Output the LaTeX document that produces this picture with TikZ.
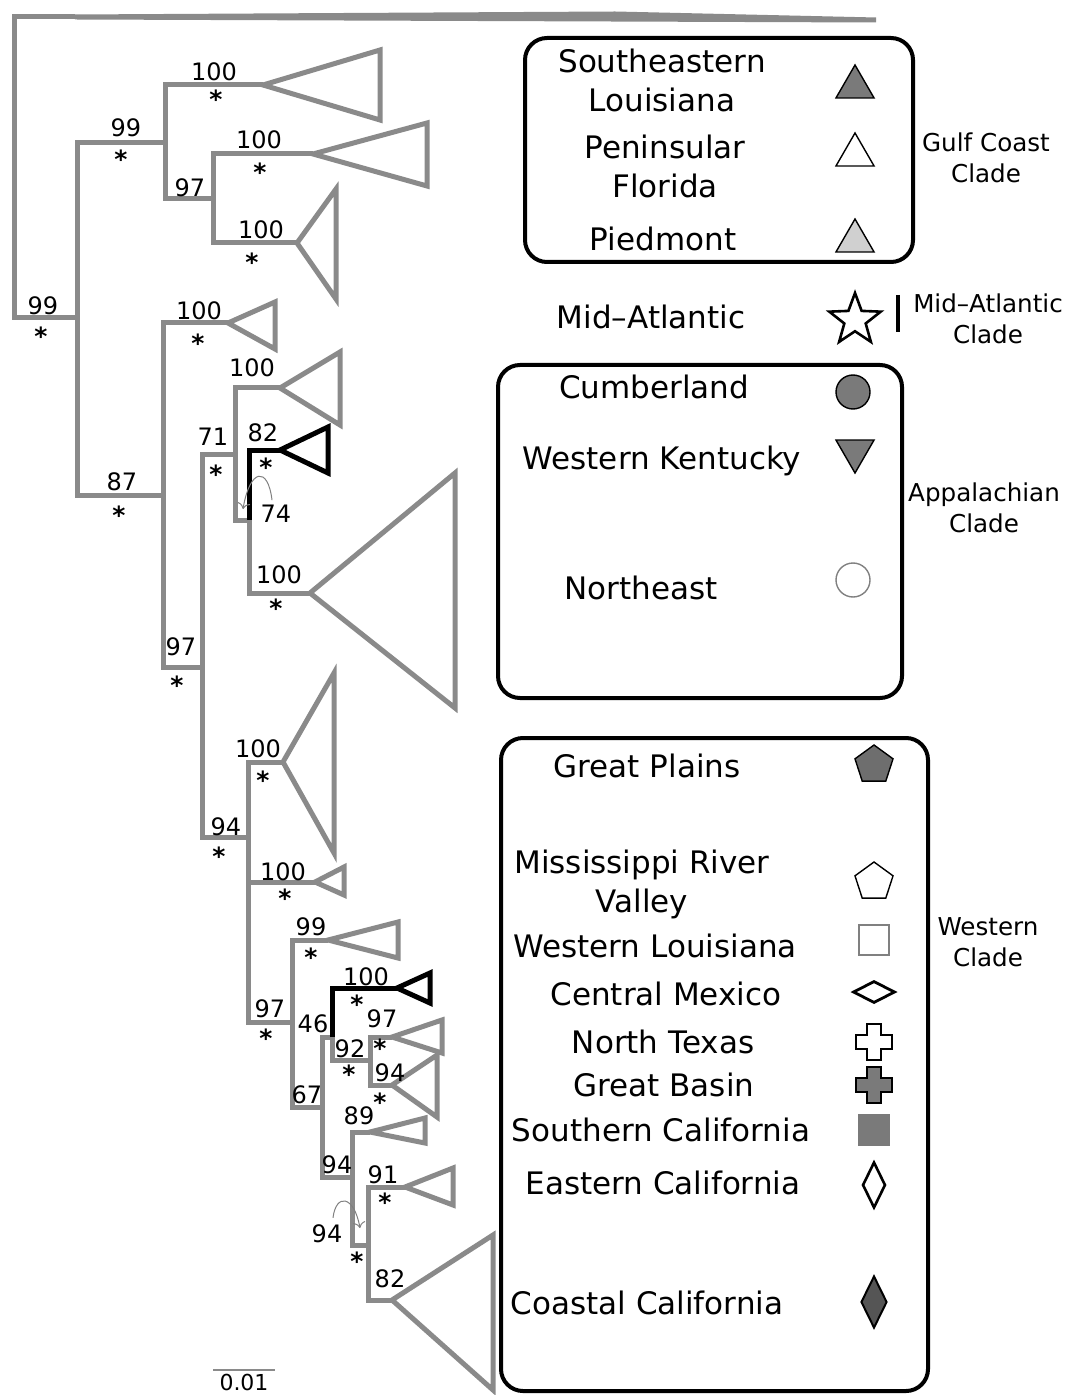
\documentclass[tikz,border=0pt]{standalone}
\usepackage{fontspec}
\setmainfont{DejaVu Sans}
\usetikzlibrary{shapes.geometric,arrows.meta}
\definecolor{treegray}{RGB}{138,138,138}
\definecolor{symgray}{RGB}{122,122,122}
\definecolor{symdark}{RGB}{85,85,85}
\definecolor{symlight}{RGB}{208,208,208}

\begin{document}
\begin{tikzpicture}[x=0.5pt,y=-0.5pt,
    br/.style={draw=treegray,line width=2.5pt,line join=miter},
    bl/.style={draw=black,line width=2.5pt,line join=miter},
    bs/.style={font=\fontsize{12}{14}\selectfont,inner sep=0pt,anchor=base},
    ps/.style={bs,font=\fontsize{12.5}{14}\selectfont\bfseries},
    lg/.style={font=\fontsize{15.5}{19.5}\selectfont,align=center,inner sep=0pt},
    lt/.style={lg,anchor=base},
    cl/.style={font=\fontsize{12.3}{15.5}\selectfont,align=center,inner sep=0pt},
    box/.style={draw,line width=2pt,rounded corners=11pt},
    sym/.style={draw,line width=0.7pt,inner sep=0pt},
    cv/.style={draw=gray,line width=0.5pt,-{To[length=3pt]}}]
  \useasboundingbox (0,0) rectangle (1070,1395);
  \coordinate (rt) at (14,17);
  \coordinate (og) at (75,17);
  \coordinate (a) at (77,318);
  \coordinate (b) at (165,143);
  \coordinate (c) at (213,199);
  \coordinate (d) at (163,495);
  \coordinate (e) at (202,667);
  \coordinate (f) at (235,454);
  \coordinate (g) at (249,520);
  \coordinate (h) at (248,837);
  \coordinate (i) at (292,1022);
  \coordinate (j) at (322,1107);
  \coordinate (k) at (332,1037);
  \coordinate (q) at (370,1060);
  \coordinate (m) at (352,1177);
  \coordinate (n) at (368,1245);
  \coordinate (l1) at (263,85);
  \coordinate (l2) at (313,154);
  \coordinate (l3) at (297,243);
  \coordinate (l4) at (228,323);
  \coordinate (l5) at (280,388);
  \coordinate (l6) at (280,450);
  \coordinate (l7) at (310,593);
  \coordinate (l8) at (283,762);
  \coordinate (l9) at (315,882);
  \coordinate (l10) at (328,940);
  \coordinate (l11) at (397,988);
  \coordinate (l12) at (392,1037);
  \coordinate (l13) at (392,1085);
  \coordinate (l14) at (370,1132);
  \coordinate (l15) at (405,1187);
  \coordinate (l16) at (392,1300);

  \draw[br,fill=treegray] (og) -- (615,14) -- (876,20) -- cycle;
  \draw[br] (og) -- (rt) |- (a) (a) |- (b) (a) |- (d) (b) |- (l1) (b) |- (c)
    (c) |- (l2) (c) |- (l3) (d) |- (l4) (d) |- (e) (e) |- (f) (e) |- (h)
    (f) |- (l5) (f) |- (g) (g) |- (l7) (h) |- (l8) (h) |- (l9) (h) |- (i)
    (i) |- (l10) (i) |- (j) (j) |- (k) (j) |- (m) (k) |- (q) (q) |- (l12)
    (q) |- (l13) (m) |- (l14) (m) |- (n) (n) |- (l15) (n) |- (l16);
  \draw[bl] (g) |- (l6) (k) |- (l11);
  \foreach \t/\r/\u/\v in {l1/380/50/120, l2/427/123/186, l3/336/189/299,
      l4/275/302/349, l5/340/352/425, l7/455/473/708, l8/334/673/853,
      l9/344/867/895, l10/398/922/958, l12/442/1020/1053, l13/437/1055/1117,
      l14/425/1118/1143, l15/453/1168/1205, l16/493/1235/1390}
    \draw[br] (\t) -- (\r,\u) -- (\r,\v) -- cycle;
  \draw[bl] (l6) -- (328,427) -- (328,473) -- cycle;
  \draw[bl] (l11) -- (430,973) -- (430,1003) -- cycle;

  \foreach \x/\y/\v [count=\s] in {43/315/99, 126/137/99, 214/81/100, 190/197/97,
      259/149/100, 261/239/100, 122/490/87, 199/320/100, 181/655/97, 213/445/71,
      252/377/100, 263/442/82, 276/522/74, 279/583/100, 226/835/94, 258/757/100,
      283/880/100, 270/1017/97, 311/935/99, 313/1032/46, 366/985/100, 382/1027/97,
      350/1057/92, 390/1081/94, 307/1103/67, 359/1124/89, 337/1173/94,
      383/1183/91, 327/1242/94, 390/1287/82}
    \node[bs] (b\s) at (\x,\y) {\v};
  \foreach \x/\y [count=\s] in {41/346, 121/169, 216/109, 260/182, 252/272,
      119/524, 198/353, 177/694, 216/483, 266/476, 276/617, 219/865, 263/789,
      285/907, 266/1047, 311/966, 357/1013, 380/1057, 349/1083, 380/1111,
      385/1211, 357/1270}
    \node[ps] (p\s) at (\x,\y) {*};
  \coordinate (t74) at (243,509);
  \coordinate (t94) at (360,1228);
  \draw[cv] (b13.north) ++(-4,-4) .. controls (268,466) and (250,468) .. (t74);
  \draw[cv] (b29.north) ++(6,-6) .. controls (336,1193) and (354,1195) .. (t94);

  \draw[treegray,line width=1pt] (213,1370) -- (275,1370);
  \node[bs,font=\fontsize{11}{13}\selectfont] (sc) at (244,1390) {0.01};

  \draw[box] (525,38) rectangle (913,262);
  \draw[box] (498,365) rectangle (902,698);
  \draw[box] (501,738) rectangle (928,1391);

  \node[lg] (sel) at (662,80) {Southeastern\\Louisiana};
  \node[lg] (pfl) at (665,166) {Peninsular\\Florida};
  \node[lt] (pdm) at (663,251) {Piedmont};
  \node[lt] (mat) at (651,329) {Mid--Atlantic};
  \node[lt] (cum) at (654,399) {Cumberland};
  \node[lt] (wky) at (662,469) {Western Kentucky};
  \node[lt] (nea) at (641,599) {Northeast};
  \node[lt] (gpl) at (647,777) {Great Plains};
  \node[lg] (mrv) at (642,884) {Mississippi River\\Valley};
  \node[lt] (wla) at (655,957) {Western Louisiana};
  \node[lt] (cmx) at (666,1005) {Central Mexico};
  \node[lt] (ntx) at (663,1053) {North Texas};
  \node[lt] (gba) at (664,1096) {Great Basin};
  \node[lt] (sca) at (661,1141) {Southern California};
  \node[lt] (eca) at (663,1194) {Eastern California};
  \node[lt] (cca) at (647,1314) {Coastal California};

  \node[cl] (gcc) at (986,158) {Gulf Coast\\Clade};
  \node[cl] (mac) at (988,319) {Mid--Atlantic\\Clade};
  \node[cl] (apc) at (984,508) {Appalachian\\Clade};
  \node[cl] (wec) at (988,942) {Western\\Clade};

  \node[sym,regular polygon,regular polygon sides=3,minimum size=22pt,fill=symgray] (y1) at (855,87) {};
  \node[sym,regular polygon,regular polygon sides=3,minimum size=22pt,fill=white] (y2) at (855,155) {};
  \node[sym,regular polygon,regular polygon sides=3,minimum size=22pt,fill=symlight] (y3) at (855,241) {};
  \node[sym,star,star points=5,star point ratio=2.4,minimum size=27pt,line width=1.3pt] (y4) at (855,320) {};
  \draw[line width=2pt] (898,295) -- (898,332);
  \node[sym,circle,minimum size=17pt,fill=symgray] (y5) at (853,392) {};
  \node[sym,regular polygon,regular polygon sides=3,shape border rotate=180,minimum size=22pt,fill=symgray] (y6) at (855,451) {};
  \node[sym,circle,minimum size=17pt,draw=gray] (y7) at (853,580) {};
  \node[sym,regular polygon,regular polygon sides=5,minimum size=20pt,fill=symdark!85!white] (y8) at (874,765) {};
  \node[sym,regular polygon,regular polygon sides=5,minimum size=20pt] (y9) at (874,882) {};
  \node[sym,rectangle,minimum size=15pt,draw=gray] (y10) at (874,940) {};
  \node[sym,diamond,minimum width=21pt,minimum height=11pt,line width=1.4pt] (y11) at (874,992) {};
  \foreach \y/\c in {1042/white,1085/symgray}
    \draw[sym,fill=\c,line width=1pt,shift={(874,\y)}] (-7,-18) -- (7,-18) -- (7,-7) -- (18,-7)
      -- (18,7) -- (7,7) -- (7,18) -- (-7,18) -- (-7,7) -- (-18,7) -- (-18,-7) -- (-7,-7) -- cycle;
  \node[sym,rectangle,minimum size=15.5pt,fill=symgray,draw=symgray] (y12) at (874,1130) {};
  \node[sym,diamond,minimum width=11.5pt,minimum height=23pt,line width=1.3pt] (y13) at (874,1185) {};
  \node[sym,diamond,minimum width=13pt,minimum height=26pt,fill=symdark,line width=1pt] (y14) at (874,1302) {};
\end{tikzpicture}
\end{document}
